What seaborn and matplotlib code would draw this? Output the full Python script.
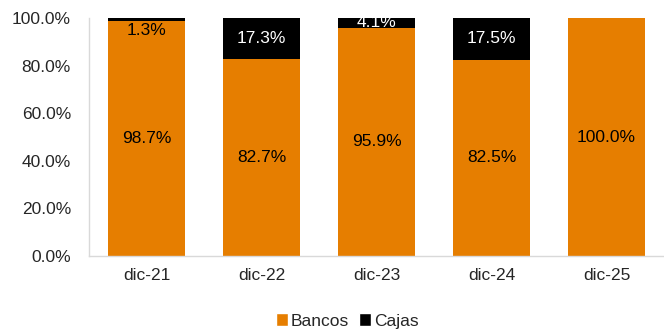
import matplotlib
matplotlib.use("Agg")
import matplotlib.pyplot as plt
import seaborn as sns
import pandas as pd
from matplotlib.patches import Patch

categories = ["dic-21", "dic-22", "dic-23", "dic-24", "dic-25"]
bancos = [98.7, 82.7, 95.9, 82.5, 100.0]
cajas = [1.3, 17.3, 4.1, 17.5, 0.0]

sns.set_theme(style="white")
plt.rcParams["font.family"] = ["Liberation Sans", "DejaVu Sans"]

ORANGE = "#E67E00"
BLACK = "#000000"
GRID = "#D9D9D9"

df = pd.DataFrame({"cat": categories, "bancos": bancos, "cajas": cajas})
df["total"] = df["bancos"] + df["cajas"]

fig = plt.figure(figsize=(6.64, 3.30), dpi=100)
ax = fig.add_axes([89 / 664, 1 - 256 / 330, 1 - 89 / 664, (256 - 18) / 330])

sns.barplot(data=df, x="cat", y="total", color=BLACK, width=0.67, ax=ax,
            saturation=1, linewidth=0)
sns.barplot(data=df, x="cat", y="bancos", color=ORANGE, width=0.67, ax=ax,
            saturation=1, linewidth=0)

fs = 12.5
for i, (b, c) in enumerate(zip(bancos, cajas)):
    ax.text(i, b / 2, f"{b:.1f}%", ha="center", va="center", fontsize=fs, color="black")
    if c > 0:
        if c < 2:
            ax.text(i, b - 3.8, f"{c:.1f}%", ha="center", va="center", fontsize=fs, color="black")
        else:
            ax.text(i, b + c / 2, f"{c:.1f}%", ha="center", va="center", fontsize=fs, color="white")

ax.set_ylim(0, 100)
ax.set_xlim(-0.5, 4.46)
ax.set_yticks([0, 20, 40, 60, 80, 100])
ax.set_yticklabels([f"{v:.1f}%" for v in [0, 20, 40, 60, 80, 100]], fontsize=fs)
ax.set_xticks(range(len(categories)))
ax.set_xticklabels(categories, fontsize=fs)
ax.set_xticks([i + 0.5 for i in range(-1, len(categories))], minor=True)
ax.tick_params(axis="x", which="major", length=0, pad=9)
ax.tick_params(axis="x", which="minor", length=6, color=GRID, width=1, direction="out")
ax.tick_params(axis="y", length=5, color=GRID, width=1, direction="out", pad=8)
ax.set_xlabel("")
ax.set_ylabel("")
for s in ["top", "right"]:
    ax.spines[s].set_visible(False)
for s in ["left", "bottom"]:
    ax.spines[s].set_color(GRID)
    ax.spines[s].set_linewidth(1)
ax.grid(False)

handles = [Patch(facecolor=ORANGE, label="Bancos"), Patch(facecolor=BLACK, label="Cajas")]
fig.legend(handles=handles, loc="center", bbox_to_anchor=(347 / 664, 1 - 321 / 330), ncol=2,
           frameon=False, fontsize=fs, handlelength=0.7, handleheight=0.7,
           handletextpad=0.15, columnspacing=0.6)

fig.savefig("out.png", dpi=100)
